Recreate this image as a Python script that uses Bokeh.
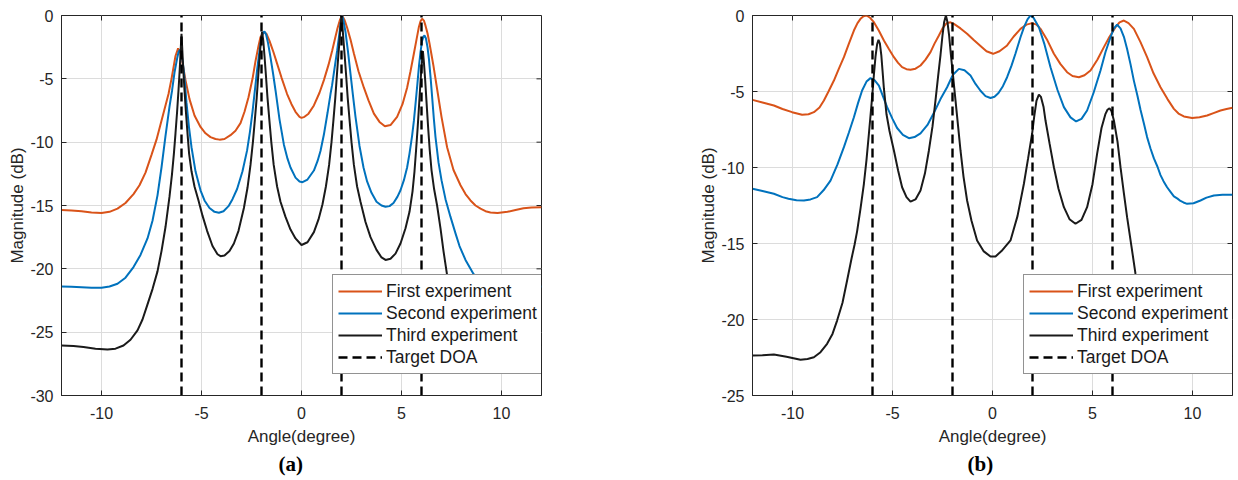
from bokeh.plotting import figure
from bokeh.models import Range1d, FixedTicker, Legend, LegendItem, Title, ColumnDataSource
from bokeh.layouts import row
from bokeh.embed import file_html
from bokeh.resources import INLINE

# ---------------- data: panel (a) ----------------
ang_first_a = [-12, -11.5, -11, -10.5, -10, -9.6, -9.2, -8.8, -8.4, -8.1, -7.8, -7.5, -7.25, -7.05, -6.85,
               -6.65, -6.5, -6.4, -6.3, -6.17, -6.05, -5.92, -5.8, -5.6, -5.35, -5.05, -4.8, -4.55, -4.3, -4.1,
               -3.85, -3.55, -3.3, -3.05, -2.85, -2.65, -2.45, -2.3, -2.15, -2.05, -1.88, -1.75, -1.6, -1.4, -1.22,
               -1.0, -0.72, -0.5, -0.3, -0.1, 0, 0.15, 0.35, 0.62, 0.9, 1.12, 1.35, 1.53, 1.68, 1.8,
               1.92, 2.03, 2.15, 2.28, 2.45, 2.62, 2.85, 3.12, 3.35, 3.62, 3.9, 4.17, 4.45, 4.78, 5.05,
               5.28, 5.45, 5.62, 5.75, 5.87, 5.95, 6.03, 6.12, 6.2, 6.3, 6.4, 6.5, 6.6, 6.8, 7.0,
               7.28, 7.6, 7.95, 8.2, 8.45, 8.7, 8.95, 9.2, 9.45, 9.8, 10.3, 10.7, 11.1, 11.5, 12]
mag_first_a = [-15.35, -15.4, -15.45, -15.55, -15.6, -15.5, -15.25, -14.8, -14.1, -13.4, -12.4, -11.0, -9.8, -8.6, -7.4,
               -6.2, -5.0, -4.1, -3.2, -2.6, -3.0, -4.0, -5.1, -6.6, -7.9, -8.8, -9.3, -9.6, -9.75, -9.8,
               -9.75, -9.45, -9.1, -8.5, -7.6, -6.45, -5.0, -3.6, -2.4, -1.7, -1.3, -1.45, -2.0, -2.9, -3.8,
               -4.9, -6.2, -7.0, -7.6, -8.0, -8.08, -8.0, -7.75, -7.1, -6.1, -5.1, -3.9, -2.8, -1.8, -1.0,
               -0.35, 0.0, -0.35, -0.95, -1.9, -3.0, -4.4, -5.7, -6.7, -7.75, -8.4, -8.75, -8.65, -8.0, -7.0,
               -5.7, -4.4, -3.0, -1.9, -0.9, -0.45, -0.25, -0.4, -0.8, -1.4, -2.2, -3.1, -4.0, -6.0, -8.0,
               -10.4, -12.2, -13.4, -14.1, -14.6, -15.0, -15.25, -15.45, -15.55, -15.6, -15.5, -15.35, -15.22, -15.15, -15.13]

ang_second_a = [-12, -11.5, -11, -10.5, -10, -9.6, -9.2, -8.8, -8.4, -8.05, -7.7, -7.45, -7.2, -7.0, -6.8,
                -6.6, -6.47, -6.35, -6.22, -6.15, -6.08, -6.0, -5.92, -5.83, -5.75, -5.62, -5.5, -5.3, -5.05, -4.85,
                -4.6, -4.35, -4.13, -3.9, -3.65, -3.45, -3.22, -2.95, -2.72, -2.58, -2.45, -2.33, -2.22, -2.1, -2.0,
                -1.92, -1.85, -1.77, -1.67, -1.55, -1.42, -1.3, -1.1, -0.88, -0.7, -0.55, -0.3, -0.1, 0.05, 0.3,
                0.62, 0.8, 0.95, 1.12, 1.3, 1.45, 1.53, 1.65, 1.78, 1.88, 1.96, 2.03, 2.1, 2.2, 2.32,
                2.45, 2.58, 2.7, 2.9, 3.1, 3.28, 3.5, 3.75, 4.0, 4.2, 4.4, 4.6, 4.8, 4.95, 5.12,
                5.28, 5.4, 5.53, 5.62, 5.7, 5.8, 5.88, 5.95, 6.03, 6.1, 6.15, 6.22, 6.3, 6.37, 6.46,
                6.55, 6.62, 6.7, 6.85, 7.0, 7.2, 7.45, 7.7, 7.9, 8.2, 8.6, 9.0, 9.5, 10.0, 11.0, 12]
mag_second_a = [-21.39, -21.42, -21.45, -21.5, -21.5, -21.4, -21.18, -20.7, -19.86, -18.9, -17.6, -16.2, -14.2, -12.0, -9.5,
                -7.2, -5.9, -4.5, -3.4, -2.9, -2.7, -3.0, -3.9, -5.3, -6.9, -8.9, -10.4, -12.3, -13.8, -14.6,
                -15.2, -15.5, -15.57, -15.45, -15.05, -14.5, -13.7, -12.3, -10.65, -9.2, -7.6, -5.9, -4.3, -2.8, -1.8,
                -1.35, -1.26, -1.5, -2.2, -3.3, -4.6, -5.9, -8.2, -10.2, -11.3, -12.0, -12.8, -13.1, -13.16, -12.95,
                -12.24, -11.5, -10.7, -9.4, -7.7, -6.2, -5.5, -4.2, -2.8, -1.6, -0.6, 0.0, -0.4, -1.3, -2.8,
                -4.6, -6.4, -8.0, -10.3, -12.0, -13.1, -14.0, -14.7, -15.0, -15.1, -15.05, -14.8, -14.3, -13.8, -13.0,
                -12.0, -10.9, -9.5, -8.3, -7.0, -5.3, -3.9, -2.9, -2.0, -1.65, -1.58, -1.8, -2.5, -3.4, -5.0,
                -6.8, -8.2, -9.6, -11.6, -13.0, -14.5, -15.9, -17.2, -18.2, -19.3, -20.4, -21.2, -21.6, -21.7, -21.5, -21.4]

ang_third_a = [-12, -11.4, -10.9, -10.3, -9.7, -9.3, -8.9, -8.55, -8.2, -7.95, -7.72, -7.45, -7.2, -7.0, -6.8,
               -6.6, -6.48, -6.38, -6.3, -6.22, -6.15, -6.09, -6.04, -6.0, -5.96, -5.91, -5.85, -5.78, -5.7, -5.62,
               -5.5, -5.35, -5.15, -4.95, -4.72, -4.45, -4.2, -4.05, -3.85, -3.6, -3.38, -3.15, -2.88, -2.7, -2.55,
               -2.43, -2.33, -2.24, -2.16, -2.09, -2.03, -1.97, -1.91, -1.85, -1.78, -1.7, -1.61, -1.51, -1.39, -1.22,
               -1.05, -0.8, -0.55, -0.3, 0.0, 0.3, 0.62, 0.85, 1.05, 1.22, 1.38, 1.5, 1.6, 1.69, 1.77,
               1.84, 1.9, 1.95, 2.0, 2.05, 2.1, 2.16, 2.23, 2.31, 2.4, 2.5, 2.62, 2.78, 2.95, 3.2,
               3.45, 3.75, 4.0, 4.2, 4.45, 4.7, 4.95, 5.2, 5.4, 5.55, 5.65, 5.73, 5.81, 5.89, 5.96,
               6.02, 6.07, 6.12, 6.18, 6.25, 6.33, 6.41, 6.5, 6.63, 6.78, 6.95, 7.1, 7.28, 7.6, 8.0,
               8.5, 9.0, 10.0, 11.0, 12.0]
mag_third_a = [-26.05, -26.1, -26.18, -26.3, -26.36, -26.3, -26.05, -25.6, -24.86, -24.0, -22.9, -21.6, -20.2, -18.6, -16.7,
               -14.3, -12.6, -10.9, -9.3, -7.6, -5.9, -4.3, -2.7, -1.45, -2.7, -4.3, -5.9, -7.6, -9.3, -10.9,
               -12.3, -13.5, -14.6, -15.8, -17.0, -18.2, -18.85, -19.0, -18.95, -18.6, -18.0, -17.0, -15.2, -13.6, -11.8,
               -10.0, -8.2, -6.5, -4.7, -3.2, -2.0, -1.3, -2.0, -3.2, -4.7, -6.5, -8.2, -10.0, -11.8, -13.5,
               -14.7, -15.9, -16.9, -17.6, -18.12, -17.9, -17.1, -16.1, -14.9, -13.5, -11.8, -10.0, -8.2, -6.5, -4.7,
               -3.2, -2.0, -0.9, 0.0, -0.9, -2.0, -3.2, -4.7, -6.5, -8.2, -10.0, -11.8, -13.5, -14.7, -16.3,
               -17.5, -18.5, -19.1, -19.3, -19.2, -18.8, -18.0, -16.8, -15.5, -13.9, -12.3, -10.6, -8.8, -6.8, -5.0,
               -3.7, -2.8, -3.7, -5.0, -6.8, -8.8, -10.6, -12.2, -13.7, -15.0, -16.8, -18.6, -20.5, -22.6, -24.4,
               -25.6, -26.2, -26.4, -26.2, -26.0]

# ---------------- data: panel (b) ----------------
ang_first_b = [-12, -11.5, -10.93, -10.5, -10.02, -9.52, -9.2, -8.93, -8.65, -8.43, -8.2, -7.93, -7.68, -7.43, -7.18,
               -6.93, -6.75, -6.6, -6.45, -6.3, -6.12, -5.93, -5.68, -5.43, -5.18, -4.93, -4.72, -4.52, -4.3, -4.1,
               -3.85, -3.6, -3.35, -3.1, -2.9, -2.68, -2.5, -2.3, -2.1, -1.93, -1.6, -1.27, -0.95, -0.6, -0.3,
               0.03, 0.35, 0.73, 1.05, 1.4, 1.7, 1.98, 2.2, 2.4, 2.75, 3.07, 3.4, 3.73, 4.0, 4.32,
               4.6, 4.9, 5.25, 5.57, 5.85, 6.15, 6.35, 6.57, 6.8, 7.07, 7.4, 7.73, 8.05, 8.4, 8.75,
               9.07, 9.3, 9.57, 9.98, 10.35, 10.73, 11.05, 11.4, 11.7, 12]
mag_first_b = [-5.55, -5.72, -5.92, -6.15, -6.36, -6.53, -6.5, -6.36, -6.05, -5.59, -5.0, -4.28, -3.5, -2.74, -1.85,
               -0.99, -0.5, -0.22, -0.05, 0.0, -0.15, -0.44, -1.0, -1.64, -2.2, -2.74, -3.12, -3.4, -3.53, -3.57,
               -3.5, -3.29, -2.9, -2.41, -1.85, -1.32, -0.85, -0.51, -0.45, -0.55, -0.85, -1.2, -1.6, -2.0, -2.35,
               -2.52, -2.35, -1.97, -1.4, -0.88, -0.6, -0.5, -0.6, -0.88, -1.65, -2.52, -3.2, -3.73, -3.98, -4.06,
               -3.93, -3.62, -2.9, -2.08, -1.4, -0.77, -0.45, -0.33, -0.5, -0.88, -1.75, -2.74, -3.8, -4.72, -5.5,
               -6.14, -6.45, -6.64, -6.75, -6.7, -6.58, -6.42, -6.25, -6.15, -6.07]

ang_second_b = [-12, -11.5, -10.93, -10.5, -10.2, -9.8, -9.43, -9.1, -8.77, -8.45, -8.1, -7.75, -7.43, -7.18, -6.93,
                -6.72, -6.52, -6.3, -6.1, -5.9, -5.68, -5.48, -5.27, -5.0, -4.77, -4.48, -4.18, -3.9, -3.6, -3.25,
                -2.93, -2.6, -2.27, -1.98, -1.68, -1.4, -1.1, -0.85, -0.6, -0.35, -0.1, 0.1, 0.3, 0.52, 0.73,
                0.95, 1.15, 1.4, 1.58, 1.75, 1.9, 2.05, 2.32, 2.6, 2.9, 3.25, 3.57, 3.9, 4.18, 4.45,
                4.73, 5.05, 5.4, 5.65, 5.9, 6.07, 6.23, 6.4, 6.57, 6.73, 6.9, 7.07, 7.25, 7.4, 7.57,
                7.73, 7.9, 8.07, 8.25, 8.4, 8.55, 8.73, 8.9, 9.07, 9.25, 9.4, 9.55, 9.73, 10.05, 10.4,
                10.7, 11.07, 11.5, 12]
mag_second_b = [-11.4, -11.55, -11.73, -11.95, -12.05, -12.15, -12.17, -12.1, -11.95, -11.5, -10.86, -9.8, -8.66, -7.7, -6.69,
                -5.75, -4.93, -4.35, -4.12, -4.25, -4.61, -5.3, -6.03, -6.8, -7.4, -7.85, -8.07, -8.0, -7.75, -7.2,
                -6.4, -5.5, -4.72, -3.9, -3.51, -3.6, -3.95, -4.5, -4.95, -5.3, -5.43, -5.35, -5.1, -4.65, -4.06,
                -3.3, -2.5, -1.43, -0.75, -0.25, 0.0, -0.15, -0.77, -1.9, -3.4, -4.9, -6.03, -6.7, -6.97, -6.8,
                -6.25, -5.1, -3.62, -2.4, -1.43, -0.85, -0.61, -0.85, -1.4, -2.2, -3.2, -4.3, -5.3, -6.2, -7.1,
                -8.0, -8.75, -9.4, -9.95, -10.5, -10.9, -11.3, -11.6, -11.9, -12.05, -12.2, -12.3, -12.39, -12.35, -12.17,
                -11.98, -11.84, -11.8, -11.8]

ang_third_b = [-12, -11.5, -10.93, -10.3, -9.6, -9.25, -8.93, -8.6, -8.27, -8.0, -7.77, -7.5, -7.27, -7.05, -6.9,
               -6.77, -6.6, -6.43, -6.3, -6.18, -6.1, -6.02, -5.93, -5.85, -5.77, -5.7, -5.63, -5.56, -5.5, -5.43,
               -5.3, -5.15, -4.93, -4.72, -4.52, -4.3, -4.1, -3.85, -3.6, -3.38, -3.18, -3.0, -2.85, -2.72, -2.6,
               -2.5, -2.42, -2.33, -2.25, -2.17, -2.08, -1.97, -1.85, -1.72, -1.6, -1.45, -1.27, -1.05, -0.77, -0.45,
               -0.1, 0.15, 0.45, 0.9, 1.25, 1.57, 1.78, 1.98, 2.08, 2.2, 2.32, 2.42, 2.55, 2.65, 2.85,
               3.07, 3.3, 3.57, 3.85, 4.15, 4.45, 4.73, 5.0, 5.23, 5.45, 5.65, 5.75, 5.85, 5.95, 6.07,
               6.25, 6.4, 6.57, 6.73, 6.95, 7.15, 7.4, 7.6, 8.2, 9.0, 10.0, 11.0, 12.0]
mag_third_b = [-22.37, -22.35, -22.3, -22.45, -22.65, -22.6, -22.48, -22.15, -21.6, -20.95, -20.07, -18.9, -17.43, -16.0, -15.1,
               -14.2, -12.7, -11.07, -9.5, -7.78, -6.6, -5.4, -3.9, -2.7, -1.9, -1.6, -1.85, -2.6, -3.6, -4.8,
               -6.5, -7.6, -8.88, -10.2, -11.3, -11.95, -12.24, -12.1, -11.51, -10.4, -8.88, -7.3, -5.59, -4.0, -2.6,
               -1.3, -0.45, 0.0, -0.45, -1.3, -2.6, -4.0, -5.59, -7.3, -8.88, -10.6, -12.17, -13.5, -14.8, -15.5,
               -15.86, -15.85, -15.5, -14.8, -13.2, -11.07, -9.4, -7.78, -6.7, -5.6, -5.2, -5.35, -6.0, -6.91, -8.4,
               -9.98, -11.4, -12.61, -13.4, -13.7, -13.45, -12.61, -11.1, -9.1, -7.4, -6.47, -6.2, -6.1, -6.3, -6.91,
               -8.3, -9.98, -11.7, -13.27, -15.2, -17.0, -18.7, -19.9, -21.8, -22.7, -22.9, -22.6, -22.4]

target_doa = [-6, -2, 2, 6]

x_ticks = [-10, -5, 0, 5, 10]
y_ticks_a = [-30, -25, -20, -15, -10, -5, 0]
y_ticks_b = [-25, -20, -15, -10, -5, 0]

series_labels = ["First experiment", "Second experiment", "Third experiment", "Target DOA"]
colors = ["#D95319", "#0072BD", "#1a1a1a"]

FONT = "Liberation Sans"
AX = "#262626"
X_LO, X_HI = -12, 12
FRAME_W, FRAME_H = 480, 380
TICK_PX = 5


def make_panel(width, min_right, y_lo, y_ticks, curves, panel_label, legend_x, title_offset):
    y_hi = 0
    p = figure(width=width, height=480, x_range=Range1d(X_LO, X_HI), y_range=Range1d(y_lo, y_hi),
               output_backend="svg", toolbar_location=None, title=None,
               min_border_left=61, min_border_right=min_right, min_border_top=15, min_border_bottom=85)
    p.background_fill_color = "white"
    p.border_fill_color = "white"
    p.outline_line_color = AX
    p.outline_line_width = 1

    p.xaxis.ticker = FixedTicker(ticks=x_ticks)
    p.yaxis.ticker = FixedTicker(ticks=y_ticks)
    p.xaxis.major_label_overrides = {t: str(t) for t in x_ticks}
    p.yaxis.major_label_overrides = {t: str(t) for t in y_ticks}
    p.xaxis.axis_label = "Angle(degree)"
    p.yaxis.axis_label = "Magnitude (dB)"
    for ax in (p.xaxis[0], p.yaxis[0]):
        ax.major_tick_in = TICK_PX
        ax.major_tick_out = 0
        ax.minor_tick_line_color = None
        ax.axis_line_color = AX
        ax.major_tick_line_color = AX
        ax.major_label_text_font = FONT
        ax.major_label_text_font_size = "16px"
        ax.major_label_text_color = AX
        ax.axis_label_text_font = FONT
        ax.axis_label_text_font_size = "17px"
        ax.axis_label_text_font_style = "normal"
        ax.axis_label_text_color = AX
    p.xaxis.major_label_standoff = 11
    p.yaxis.major_label_standoff = 8
    p.xaxis.axis_label_standoff = 5
    p.yaxis.axis_label_standoff = 0

    p.grid.grid_line_color = "#dcdcdc"
    p.grid.grid_line_width = 1
    p.xgrid.ticker = FixedTicker(ticks=x_ticks)
    p.ygrid.ticker = FixedTicker(ticks=y_ticks)

    # mirrored inward tick marks on the right and top edges of the box
    dx = TICK_PX * (X_HI - X_LO) / FRAME_W
    dy = TICK_PX * (y_hi - y_lo) / FRAME_H
    p.segment(x0=[X_HI - dx] * len(y_ticks), y0=y_ticks, x1=[X_HI] * len(y_ticks), y1=y_ticks,
              line_color=AX, line_width=1)
    p.segment(x0=x_ticks, y0=[y_hi - dy] * len(x_ticks), x1=x_ticks, y1=[y_hi] * len(x_ticks),
              line_color=AX, line_width=1)

    renderers = []
    for (ang, mag), col in zip(curves, colors):
        r = p.line(ang, mag, line_color=col, line_width=2)
        renderers.append(r)

    src = ColumnDataSource(dict(x=target_doa, y0=[y_lo] * len(target_doa), y1=[y_hi] * len(target_doa)))
    rd = p.segment(x0="x", y0="y0", x1="x", y1="y1", source=src, line_color="black",
                   line_width=2.4, line_dash="9 5")
    renderers.append(rd)

    items = [LegendItem(label=lab, renderers=[r]) for lab, r in zip(series_labels, renderers)]
    leg = Legend(items=items, location=(legend_x, 21))
    leg.label_text_font = FONT
    leg.label_text_font_size = "17.5px"
    leg.label_text_color = "#1a1a1a"
    leg.border_line_color = AX
    leg.border_line_width = 1
    leg.background_fill_color = "white"
    leg.background_fill_alpha = 1
    leg.padding = 5
    leg.spacing = 0
    leg.margin = 0
    leg.glyph_width = 44
    leg.glyph_height = 22
    leg.label_height = 22
    leg.label_standoff = 4
    p.add_layout(leg)

    t = Title(text=panel_label, align="left", text_font="Liberation Serif", text_font_size="21px",
              text_font_style="bold", text_color="black", offset=title_offset, standoff=2)
    p.add_layout(t, "below")
    return p


p1 = make_panel(691, 150, -30, y_ticks_a,
                [(ang_first_a, mag_first_a), (ang_second_a, mag_second_a), (ang_third_a, mag_third_a)],
                "(a)", 271, 217)
p2 = make_panel(547, 6, -25, y_ticks_b,
                [(ang_first_b, mag_first_b), (ang_second_b, mag_second_b), (ang_third_b, mag_third_b)],
                "(b)", 271, 215)

layout = row(p1, p2)
open("out.html", "w").write(file_html(layout, INLINE))
